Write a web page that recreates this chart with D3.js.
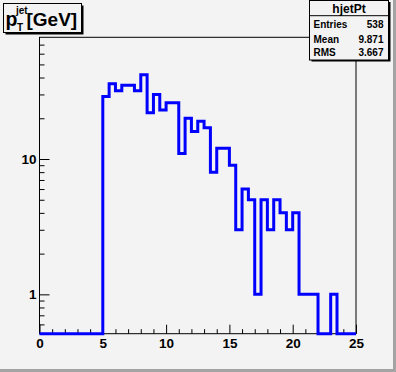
<!DOCTYPE html>
<html>
<head>
<meta charset="utf-8">
<script src="https://cdn.jsdelivr.net/npm/d3@7"></script>
<style>
  body { margin: 0; background: #f3f3f3; }
  svg { display: block; }
  text { font-family: "Liberation Sans", Arial, sans-serif; font-weight: bold; fill: #000; }
</style>
</head>
<body>
<svg id="canvas"></svg>
<script>
// histogram bins (lower edges, width 0.5) and counts
let binLow = [0, 0.5, 1, 1.5, 2, 2.5, 3, 3.5, 4, 4.5,
              5, 5.5, 6, 6.5, 7, 7.5, 8, 8.5, 9, 9.5,
              10, 10.5, 11, 11.5, 12, 12.5, 13, 13.5, 14, 14.5,
              15, 15.5, 16, 16.5, 17, 17.5, 18, 18.5, 19, 19.5,
              20, 20.5, 21, 21.5, 22, 22.5, 23, 23.5, 24, 24.5]
let counts = [0, 0, 0, 0, 0, 0, 0, 0, 0, 0,
              29, 36, 32, 35, 35, 32, 42, 22, 30, 23,
              26, 26, 11, 20, 16, 19, 17, 8, 12, 12,
              9, 3, 6, 5, 1, 5, 3, 5, 4, 3,
              4, 1, 1, 1, 0, 0, 1, 0, 0, 0]
let xMax = 25

let xTicks = [0, 5, 10, 15, 20, 25]
let xMinorTicks = [1, 2, 3, 4, 6, 7, 8, 9, 11, 12, 13, 14, 16, 17, 18, 19, 21, 22, 23, 24]
let yTicks = [1, 10]
let yMinorTicks = [0.6, 0.7, 0.8, 0.9, 2, 3, 4, 5, 6, 7, 8, 9, 20, 30, 40, 50, 60, 70]

let histName = 'hjetPt'
let statNames = ['Entries', 'Mean', 'RMS']
let statValues = ['538', '9.871', '3.667']

let w = 396
let h = 372
let frameLeft = 39.5
let frameRight = 356
let frameTop = 37.3
let frameBottom = 333.7
let bg = '#f3f3f3'

let canvas = d3.select('#canvas')
canvas.attr('width', w).attr('height', h)

canvas.append('rect').attr('width', w).attr('height', h).attr('fill', bg)
// canvas bevel
canvas.append('rect').attr('x', w - 3).attr('y', 0).attr('width', 3).attr('height', h).attr('fill', '#a4a4a4')
canvas.append('rect').attr('x', 0).attr('y', h - 3).attr('width', w).attr('height', 3).attr('fill', '#a4a4a4')

let xScale = d3.scaleLinear()
               .domain([0, xMax])
               .range([frameLeft, frameRight])

let yScale = d3.scaleLog()
               .domain([0.512, 79.3])
               .range([frameBottom, frameTop])

// axes, ticks pointing into the frame
let xAxis = d3.axisBottom(xScale)
              .tickValues(xTicks)
              .tickSizeInner(-9)
              .tickSizeOuter(0)
              .tickPadding(5)
              .tickFormat(d3.format('d'))
let xg = canvas.append('g')
               .attr('transform', 'translate(0,' + frameBottom + ')')
               .call(xAxis)
xg.select('.domain').remove()
xg.selectAll('text').attr('font-size', 13.5).attr('font-family', null).attr('dy', '0.68em')

let xMinor = d3.axisBottom(xScale).tickValues(xMinorTicks).tickSizeInner(-4.5).tickSizeOuter(0).tickFormat('')
let xmg = canvas.append('g').attr('transform', 'translate(0,' + frameBottom + ')').call(xMinor)
xmg.select('.domain').remove()

let yAxis = d3.axisLeft(yScale)
              .tickValues(yTicks)
              .tickSizeInner(-10)
              .tickSizeOuter(0)
              .tickPadding(3)
              .tickFormat(d3.format('d'))
let yg = canvas.append('g')
               .attr('transform', 'translate(' + frameLeft + ',0)')
               .call(yAxis)
yg.select('.domain').remove()
yg.selectAll('text').attr('font-size', 13.5).attr('font-family', null)

let yMinor = d3.axisLeft(yScale).tickValues(yMinorTicks).tickSizeInner(-5).tickSizeOuter(0).tickFormat('')
let ymg = canvas.append('g').attr('transform', 'translate(' + frameLeft + ',0)').call(yMinor)
ymg.select('.domain').remove()

canvas.selectAll('.tick line').attr('stroke', '#000')

// frame
canvas.append('rect')
      .attr('x', frameLeft).attr('y', frameTop)
      .attr('width', frameRight - frameLeft).attr('height', frameBottom - frameTop)
      .attr('fill', 'none').attr('stroke', '#000').attr('stroke-width', 1)

// histogram outline
let points = binLow.map((lo, i) => [lo, counts[i]])
points.push([xMax, counts[counts.length - 1]])

let line = d3.line()
             .x((d) => xScale(d[0]))
             .y((d) => d[1] > 0 ? yScale(d[1]) : frameBottom)
             .curve(d3.curveStepAfter)

canvas.append('path')
      .attr('d', line(points))
      .attr('fill', 'none')
      .attr('stroke', '#0000ff')
      .attr('stroke-width', 3)
      .attr('stroke-linejoin', 'miter')

// title pave
canvas.append('rect').attr('x', 5.5).attr('y', 5.5).attr('width', 78).attr('height', 29).attr('fill', '#000')
canvas.append('rect').attr('x', 3.5).attr('y', 3.5).attr('width', 78).attr('height', 29)
      .attr('fill', bg).attr('stroke', '#000').attr('stroke-width', 1)
canvas.append('text').attr('x', 5.5).attr('y', 25.5).attr('font-size', 19.5).text('p')
canvas.append('text').attr('x', 16).attr('y', 14).attr('font-size', 10).text('jet')
canvas.append('text').attr('x', 17).attr('y', 31).attr('font-size', 10).text('T')
canvas.append('text').attr('x', 26.5).attr('y', 25.5).attr('font-size', 19).text('[GeV]')

// stats box
let sx = 309.5
let sw = 79
let sh = 59.5
canvas.append('rect').attr('x', sx + 2).attr('y', 2).attr('width', sw).attr('height', sh).attr('fill', '#000')
canvas.append('rect').attr('x', sx).attr('y', 0.5).attr('width', sw).attr('height', sh)
      .attr('fill', bg).attr('stroke', '#000').attr('stroke-width', 1)
canvas.append('line').attr('x1', sx).attr('x2', sx + sw).attr('y1', 15.7).attr('y2', 15.7)
      .attr('stroke', '#000').attr('stroke-width', 1)
canvas.append('text').attr('x', sx + sw / 2).attr('y', 12.7).attr('font-size', 12)
      .attr('text-anchor', 'middle').text(histName)

let rowY = [28.2, 42.5, 55.5]
canvas.selectAll('.statName')
      .data(statNames)
      .enter()
      .append('text')
      .attr('class', 'statName')
      .attr('x', sx + 4)
      .attr('y', (d, i) => rowY[i])
      .attr('font-size', 10)
      .text((d) => d)
canvas.selectAll('.statValue')
      .data(statValues)
      .enter()
      .append('text')
      .attr('class', 'statValue')
      .attr('x', sx + sw - 5)
      .attr('y', (d, i) => rowY[i])
      .attr('font-size', 10)
      .attr('text-anchor', 'end')
      .text((d) => d)
</script>
</body>
</html>
